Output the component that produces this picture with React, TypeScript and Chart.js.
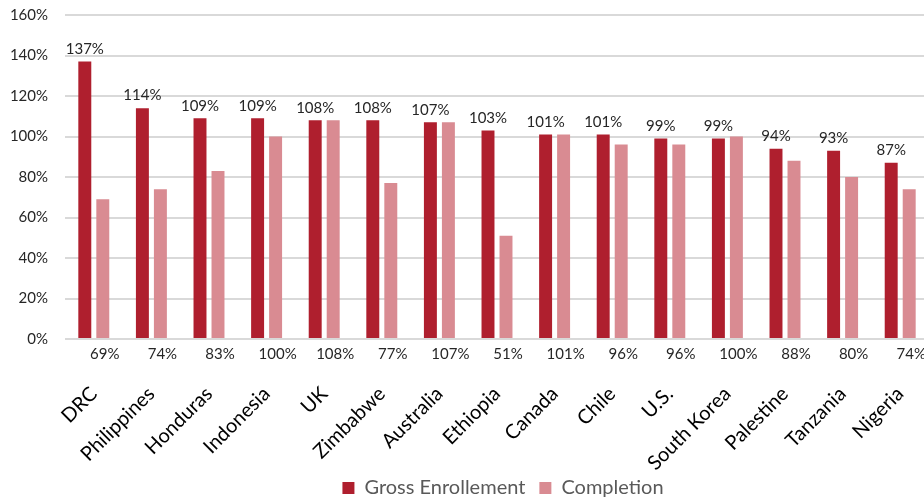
import React, { useEffect, useRef } from "react";
import { Chart, registerables } from "chart.js";

Chart.register(...registerables);

const countries = [
  "DRC", "Philippines", "Honduras", "Indonesia", "UK", "Zimbabwe", "Australia",
  "Ethiopia", "Canada", "Chile", "U.S.", "South Korea", "Palestine", "Tanzania", "Nigeria",
];
const grossEnrollment = [137, 114, 109, 109, 108, 108, 107, 103, 101, 101, 99, 99, 94, 93, 87];
const completion = [69, 74, 83, 100, 108, 77, 107, 51, 101, 96, 96, 100, 88, 80, 74];
const seriesNames = ["Gross Enrollement", "Completion"];
const yMin = 0;
const yMax = 160;
const yStep = 20;

const DARK = "#AF1F2E";
const PINK = "#D98B92";

const valueLabels = {
  id: "valueLabels",
  afterDatasetsDraw(chart: any) {
    const ctx = chart.ctx;
    const area = chart.chartArea;
    ctx.save();
    ctx.font = "15px Lato";
    ctx.fillStyle = "#262626";
    ctx.textAlign = "center";
    const m0 = chart.getDatasetMeta(0);
    m0.data.forEach((bar: any, i: number) => {
      ctx.textBaseline = "bottom";
      ctx.fillText(grossEnrollment[i] + "%", bar.x, bar.y - 5);
    });
    const m1 = chart.getDatasetMeta(1);
    m1.data.forEach((bar: any, i: number) => {
      ctx.textBaseline = "middle";
      ctx.fillText(completion[i] + "%", bar.x + 2, area.bottom + 15);
    });
    ctx.restore();
  },
};

const layoutTweak = {
  id: "layoutTweak",
  afterLayout(chart: any) {
    const lg = chart.legend;
    if (lg) {
      lg.left += 41;
      lg.right += 41;
    }
    const x = chart.scales.x;
    if (x) {
      const extra = 5;
      x.right += extra;
      x.width += extra;
      x.bottom += 14;
      x.configure();
      chart.chartArea.right += extra;
      chart.chartArea.width += extra;
    }
  },
};

export default function App() {
  const ref = useRef<HTMLCanvasElement | null>(null);
  useEffect(() => {
    if (!ref.current) return;
    Chart.defaults.font.family = "Lato";
    const chart = new Chart(ref.current, {
      type: "bar",
      data: {
        labels: countries,
        datasets: [
          {
            label: seriesNames[0],
            data: grossEnrollment,
            backgroundColor: DARK,
            categoryPercentage: 0.625,
            barPercentage: 0.72,
          },
          {
            label: seriesNames[1],
            data: completion,
            backgroundColor: PINK,
            categoryPercentage: 0.625,
            barPercentage: 0.72,
          },
        ],
      },
      options: {
        animation: false,
        responsive: true,
        maintainAspectRatio: false,
        layout: { padding: { left: 0, top: 15, right: 0, bottom: -8 } },
        plugins: {
          tooltip: { enabled: false },
          legend: {
            position: "bottom",
            labels: {
              boxWidth: 12,
              boxHeight: 12,
              padding: 14,
              color: "#595959",
              font: { size: 20, family: "Lato" },
            },
          },
        },
        scales: {
          x: {
            grid: { display: false, drawTicks: false },
            border: { display: false },
            afterFit: (s: any) => {
              s.height = 125;
              s.paddingRight = 0;
              s.paddingLeft = 0;
            },
            ticks: {
              autoSkip: false,
              minRotation: 45,
              maxRotation: 45,
              padding: 43,
              color: "#000",
              font: { size: 20, family: "Lato" },
            },
          },
          y: {
            min: yMin,
            max: yMax,
            grid: { color: "#D9D9D9", lineWidth: 2, drawTicks: false },
            border: { display: false },
            afterFit: (s: any) => {
              s.width = 65;
              s.paddingTop = 0;
              s.paddingBottom = 0;
            },
            ticks: {
              stepSize: yStep,
              padding: 17,
              color: "#262626",
              font: { size: 15, family: "Lato" },
              callback: (v: any) => v + "%",
            },
          },
        },
      },
      plugins: [valueLabels, layoutTweak],
    });
    return () => chart.destroy();
  }, []);
  return (
    <div style={{ position: "absolute", left: 0, top: 0, width: 924, height: 500 }}>
      <canvas ref={ref} />
    </div>
  );
}
